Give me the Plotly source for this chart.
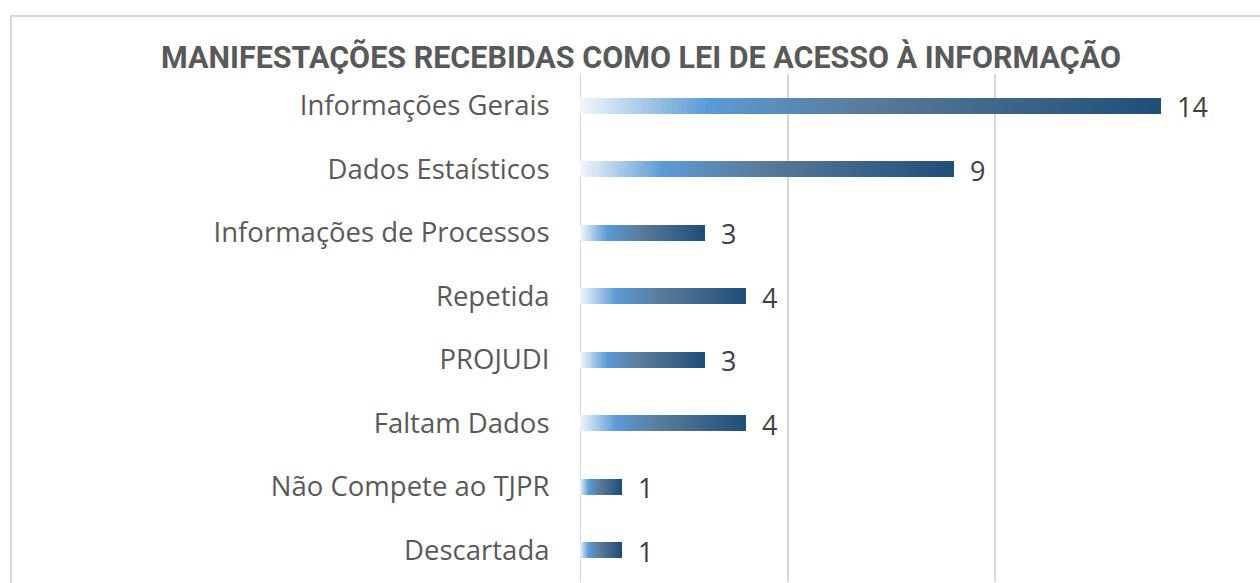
import plotly.graph_objects as go

categories = ["Informações Gerais", "Dados Estaísticos", "Informações de Processos",
              "Repetida", "PROJUDI", "Faltam Dados", "Não Compete ao TJPR", "Descartada"]
values = [14, 9, 3, 4, 3, 4, 1, 1]
title_text = "MANIFESTAÇÕES RECEBIDAS COMO LEI DE ACESSO À INFORMAÇÃO"

# gradient stops (fraction of bar length, rgb)
stops = [(0.0, (242, 247, 252)), (0.22, (91, 155, 213)), (0.5, (88, 122, 154)), (1.0, (31, 78, 121))]

def grad(t):
    for (a, ca), (b, cb) in zip(stops[:-1], stops[1:]):
        if t <= b:
            f = (t - a) / (b - a) if b > a else 0
            c = [round(ca[k] + (cb[k] - ca[k]) * f) for k in range(3)]
            return "rgb(%d,%d,%d)" % tuple(c)
    return "rgb(%d,%d,%d)" % stops[-1][1]

N = 120
fig = go.Figure()
for i in range(N):
    t = (i + 0.5) / N
    fig.add_trace(go.Bar(
        y=categories, x=[v / N for v in values], orientation="h",
        marker=dict(color=grad(t), line=dict(width=0)),
        width=0.25, showlegend=False, hoverinfo="skip"))

annotations = [dict(x=v, y=c, xref="x", yref="y", text=str(v), showarrow=False,
                    xanchor="left", yanchor="middle", xshift=14, yshift=-1,
                    font=dict(family="Open Sans", size=27, color="#404040"))
               for c, v in zip(categories, values)]

fig.update_layout(
    width=1260, height=583, barmode="stack", bargap=0,
    paper_bgcolor="white", plot_bgcolor="white",
    margin=dict(l=580, r=57, t=74, b=1),
    title=dict(text="<b>" + title_text + "</b>", x=641 / 1260, xanchor="center",
               y=1 - 57 / 583, yanchor="middle", xref="container", yref="container",
               font=dict(family="Roboto", size=30.5, color="#595959")),
    xaxis=dict(range=[0, 15], dtick=5, showgrid=True, gridcolor="#d9d9d9", gridwidth=2,
               zeroline=False, showticklabels=False, showline=False),
    yaxis=dict(autorange="reversed", showgrid=False, showline=False, zeroline=False,
               ticks="outside", ticklen=24, tickcolor="rgba(0,0,0,0)",
               tickfont=dict(family="Open Sans", size=27.5, color="#595959")),
    annotations=annotations,
    shapes=[
        dict(type="line", xref="x", yref="paper", x0=0, x1=0, y0=0, y1=1,
             line=dict(color="#d9d9d9", width=2), layer="below"),
        dict(type="rect", xref="paper", yref="paper", x0=-569 / 623, x1=1.2,
             y0=-0.1, y1=1 + 58 / 508, line=dict(color="#d9d9d9", width=2), fillcolor="rgba(0,0,0,0)"),
    ],
)

fig.write_html("out.html")
